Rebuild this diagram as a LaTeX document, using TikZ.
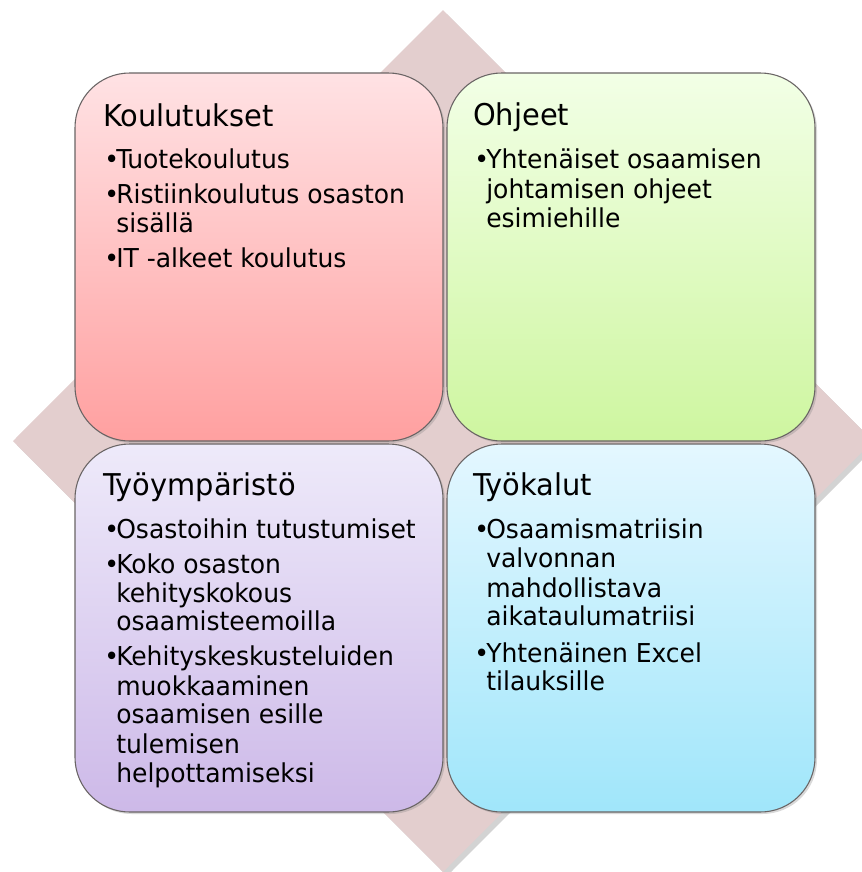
\documentclass[tikz,border=0pt]{standalone}
\usepackage{fontspec}
\setmainfont{DejaVu Sans Condensed}[FakeStretch=1.07]
\usetikzlibrary{shadows}

\definecolor{diamondcol}{RGB}{227,206,206}
\definecolor{edgecol}{RGB}{105,100,100}
\definecolor{tlTop}{RGB}{255,226,228}
\definecolor{tlBot}{RGB}{255,160,160}
\definecolor{trTop}{RGB}{242,255,230}
\definecolor{trBot}{RGB}{206,246,160}
\definecolor{blTop}{RGB}{238,234,250}
\definecolor{blBot}{RGB}{205,185,232}
\definecolor{brTop}{RGB}{228,247,255}
\definecolor{brBot}{RGB}{160,230,250}

% bullet line and continuation line of a list item
\newcommand\bitem[1]{\makebox[9pt][l]{•}#1}
\newcommand\citem[1]{\hspace*{9pt}#1}

\tikzset{
  panel/.style={draw=edgecol, line width=0.8pt, rounded corners=41pt,
    drop shadow={opacity=0.3, shadow xshift=1.5pt, shadow yshift=-1.5pt}},
  title/.style={anchor=base west, inner sep=0pt,
    font=\fontsize{22.5pt}{26pt}\selectfont},
  line/.style={anchor=base west, inner sep=0pt,
    font=\fontsize{19.5pt}{22pt}\selectfont},
}

\begin{document}
\begin{tikzpicture}[x=0.75pt, y=-0.75pt]
\useasboundingbox (0,0) rectangle (862,872);

% background diamond
\path[fill=diamondcol, drop shadow={opacity=0.35, shadow xshift=3pt, shadow yshift=-3pt}]
  (443,10) -- (873,441) -- (443,872) -- (13,441) -- cycle;

% four panels
\path[panel, top color=tlTop, bottom color=tlBot] (75,73) rectangle (443,441);
\path[panel, top color=trTop, bottom color=trBot] (447,73) rectangle (815,441);
\path[panel, top color=blTop, bottom color=blBot] (75,444) rectangle (443,812);
\path[panel, top color=brTop, bottom color=brBot] (447,444) rectangle (815,812);

% Koulutukset
\node[title] (tlT) at (103,126) {Koulutukset};
\foreach \i/\yy/\t in {1/168/\bitem{Tuotekoulutus},
                       2/203/\bitem{Ristiinkoulutus osaston},
                       3/232/\citem{sisällä},
                       4/267/\bitem{IT -alkeet koulutus}}
  \node[line] (tl\i) at (104,\yy) {\t};

% Ohjeet
\node[title] (trT) at (473,125) {Ohjeet};
\foreach \i/\yy/\t in {1/168/\bitem{Yhtenäiset osaamisen},
                       2/198/\citem{johtamisen ohjeet},
                       3/227/\citem{esimiehille}}
  \node[line] (tr\i) at (474,\yy) {\t};

% Työympäristö
\node[title] (blT) at (103,495) {Työympäristö};
\foreach \i/\yy/\t in {1/538/\bitem{Osastoihin tutustumiset},
                       2/573/\bitem{Koko osaston},
                       3/602/\citem{kehityskokous},
                       4/630/\citem{osaamisteemoilla},
                       5/665/\bitem{Kehityskeskusteluiden},
                       6/695/\citem{muokkaaminen},
                       7/723/\citem{osaamisen esille},
                       8/753/\citem{tulemisen},
                       9/782/\citem{helpottamiseksi}}
  \node[line] (bl\i) at (104,\yy) {\t};

% Työkalut
\node[title] (brT) at (473,495) {Työkalut};
\foreach \i/\yy/\t in {1/538/\bitem{Osaamismatriisin},
                       2/567/\citem{valvonnan},
                       3/597/\citem{mahdollistava},
                       4/625/\citem{aikataulumatriisi},
                       5/662/\bitem{Yhtenäinen Excel},
                       6/690/\citem{tilauksille}}
  \node[line] (br\i) at (474,\yy) {\t};

\end{tikzpicture}
\end{document}
